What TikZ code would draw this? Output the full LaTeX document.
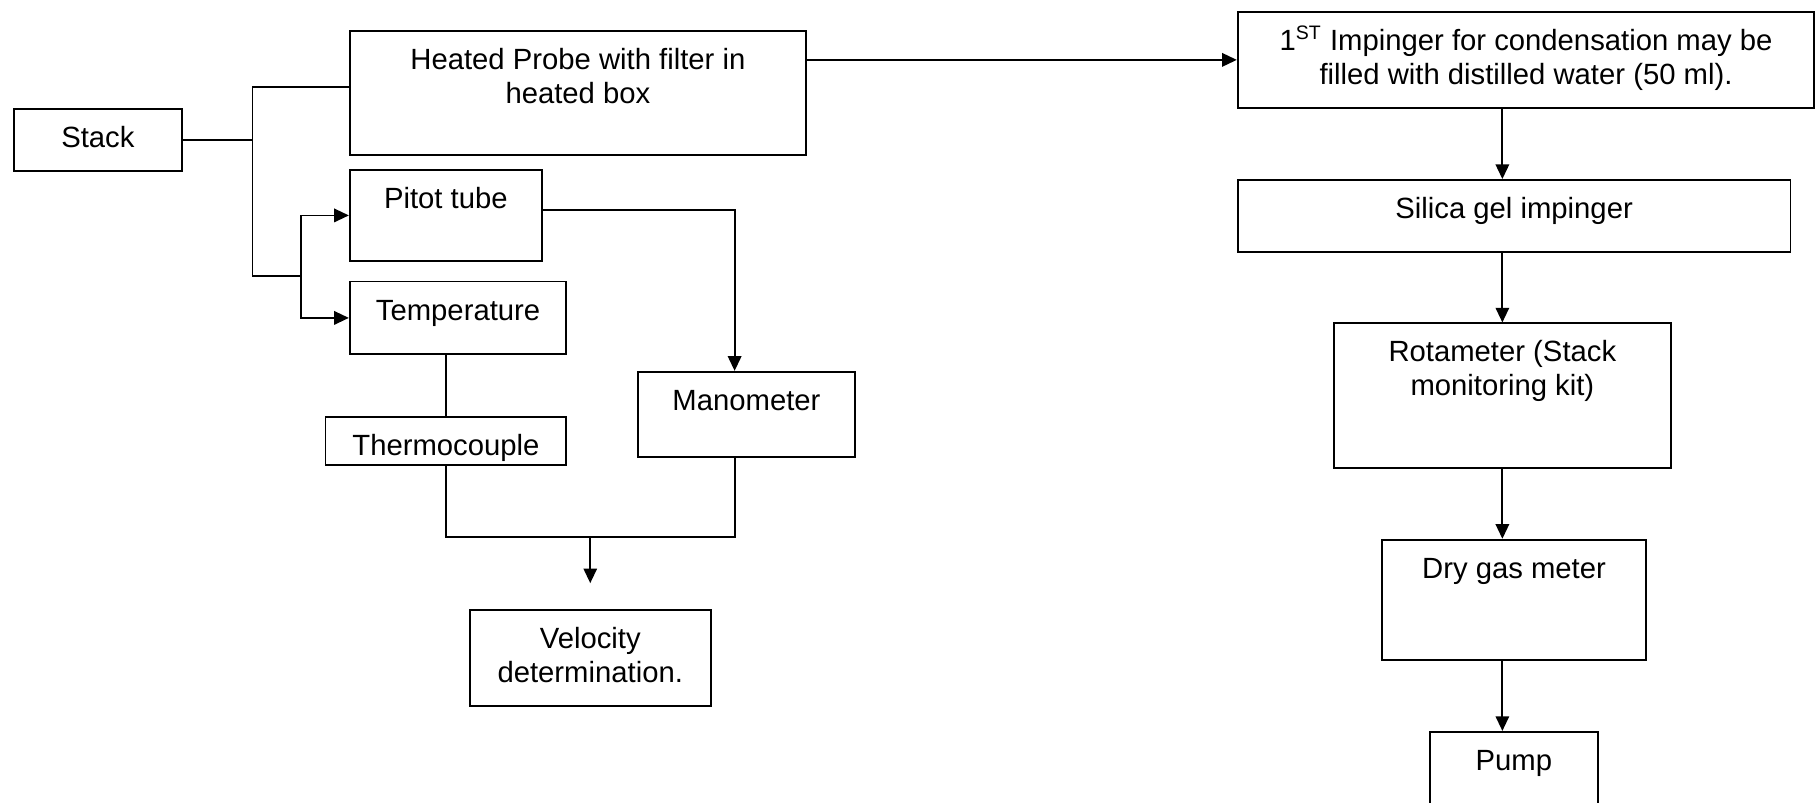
\documentclass[tikz,border=0pt]{standalone}
\usepackage{fontspec}
\setmainfont{Liberation Sans}
\usetikzlibrary{calc,arrows.meta}
\newcommand{\FlowUnit}{0.475}
\newlength{\FlowLen}
\setlength{\FlowLen}{\FlowUnit pt}
\newcommand\FlowText[3]{%
  \parbox[c][#2\FlowLen][t]{#1\FlowLen}{\centering\fontsize{12}{13.8}\selectfont\rule{0pt}{33.3\FlowLen}#3}%
}

\begin{document}
\begin{tikzpicture}[x=\FlowUnit pt, y=-\FlowUnit pt,
                    box/.style = { draw, line width=0.75pt, inner sep=0pt },
                    link/.style = { line width=0.75pt },
                    >={Triangle[length=6pt, width=5.5pt]}]
  \clip (0,0) rectangle (1568,693);

  \node[box] (stack)  at (84.5,121)     {\FlowText{145}{54}{Stack}};
  \node[box] (probe)  at (499,80.5)     {\FlowText{394}{107}{Heated Probe with filter in\\heated box}};
  \node[box] (pitot)  at (385,186)      {\FlowText{166}{78}{Pitot tube}};
  \node[box] (temp)   at (395.5,274.5)  {\FlowText{187}{63}{Temperature}};
  \node[box] (thermo) at (385,380.8)    {\FlowText{208}{41.6}{Thermocouple}};
  \node[box] (mano)   at (644.5,357.8)  {\FlowText{187}{73.6}{Manometer}};
  \node[box] (velo)   at (509.65,568.25) {\FlowText{208.1}{82.9}{Velocity\\determination.}};

  \node[box] (imp1)   at (1317.6,51.7)  {\FlowText{497.8}{82.6}{1\textsuperscript{ST} Impinger for condensation may be\\filled with distilled water (50 ml).}};
  \node[box] (silica) at (1307.35,186.5) {\FlowText{477.3}{62.2}{Silica gel impinger}};
  \node[box] (rota)   at (1297.2,341.6) {\FlowText{291}{124.8}{Rotameter (Stack\\monitoring kit)}};
  \node[box] (dry)    at (1307.25,518)  {\FlowText{228.5}{104}{Dry gas meter}};
  \node[box] (pump)   at (1307.15,671.9) {\FlowText{145.1}{80}{Pump}};

  \coordinate (split) at (218,121);
  \coordinate (fork)  at (260,238);
  \coordinate (join)  at (509.65,463.4);

  % sampling side
  \draw[link] (stack.east) -- (split);
  \draw[link] ($(probe.west)+(0,-5.5)$) -| (split) |- (fork);
  \draw[link,->] (fork) |- (pitot.west);
  \draw[link,->] (fork) |- (temp.west);
  \draw[link,->] ($(pitot.east)+(0,-5)$) -| ($(mano.north)+(-10.2,0)$);
  \draw[link] (temp.south -| thermo.north) -- (thermo.north);
  \draw[link] (thermo.south) |- (join) -| ($(mano.south)+(-10.2,0)$);
  \draw[link,->] (join) -- ($(velo.north)+(0,-22.5)$);

  % gas train
  \draw[link,->] (probe.east |- imp1.west) -- (imp1.west);
  \draw[link,->] (imp1.south -| rota.north) -- (silica.north -| rota.north);
  \draw[link,->] (silica.south -| rota.north) -- (rota.north);
  \draw[link,->] (rota.south) -- (dry.north -| rota.south);
  \draw[link,->] (dry.south -| rota.south) -- (pump.north -| rota.south);
\end{tikzpicture}
\end{document}
